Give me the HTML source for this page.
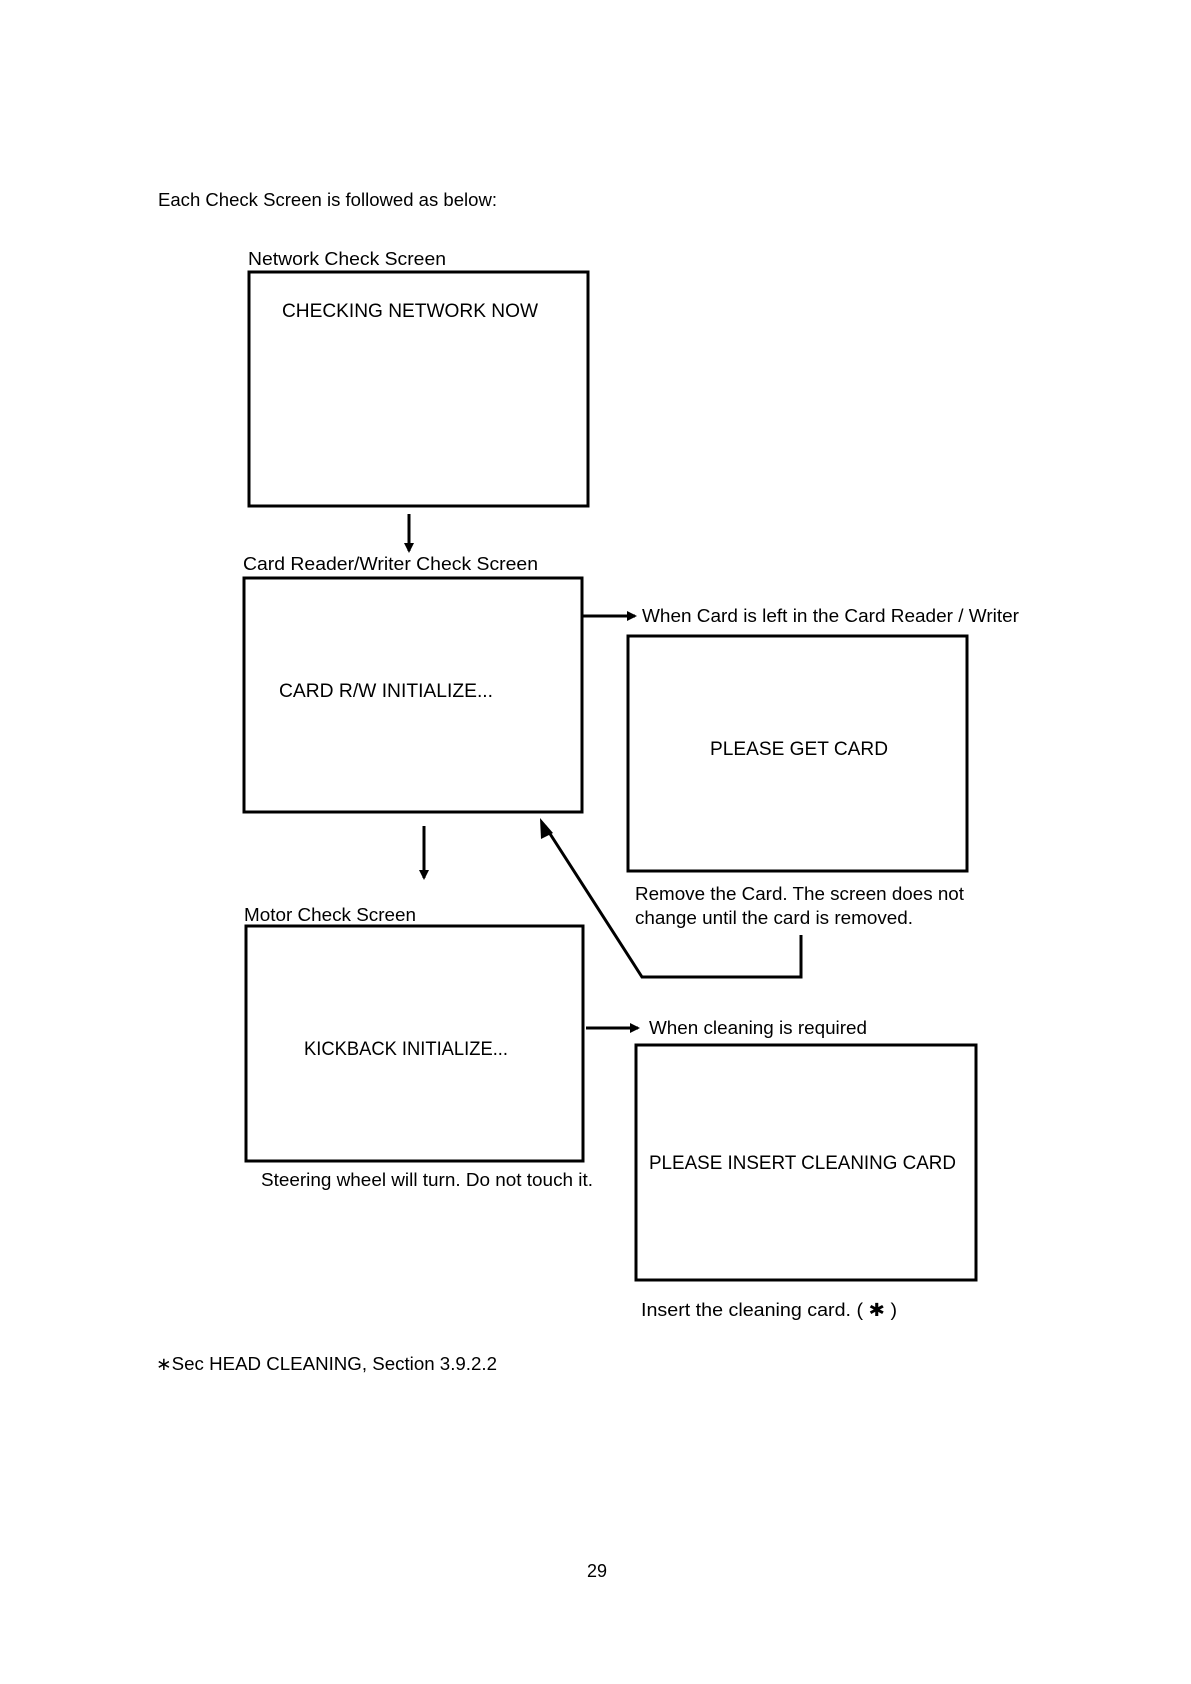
<!DOCTYPE html>
<html><head><meta charset="utf-8"><style>
html,body{margin:0;padding:0;background:#fff;}
svg{display:block;}
text{font-family:"Liberation Sans",sans-serif;fill:#000;}
</style></head><body>
<svg width="1191" height="1684" viewBox="0 0 1191 1684" xmlns="http://www.w3.org/2000/svg">
<defs>
<marker id="ah" markerWidth="10" markerHeight="10" refX="8" refY="5" orient="auto" markerUnits="userSpaceOnUse">
<path d="M0,0 L10,5 L0,10 z" fill="#000"/></marker>
</defs>
<g font-size="18">
<text x="158" y="206" textLength="339" lengthAdjust="spacingAndGlyphs">Each Check Screen is followed as below:</text>
<text x="248" y="265" textLength="198" lengthAdjust="spacingAndGlyphs">Network Check Screen</text>
<text x="243" y="570" textLength="295" lengthAdjust="spacingAndGlyphs">Card Reader/Writer Check Screen</text>
<text x="642" y="622" textLength="377" lengthAdjust="spacingAndGlyphs">When Card is left in the Card Reader / Writer</text>
<text x="635" y="900" textLength="329" lengthAdjust="spacingAndGlyphs">Remove the Card. The screen does not</text>
<text x="635" y="924" textLength="278" lengthAdjust="spacingAndGlyphs">change until the card is removed.</text>
<text x="244" y="921" textLength="172" lengthAdjust="spacingAndGlyphs">Motor Check Screen</text>
<text x="261" y="1186" textLength="332" lengthAdjust="spacingAndGlyphs">Steering wheel will turn. Do not touch it.</text>
<text x="649" y="1034" textLength="218" lengthAdjust="spacingAndGlyphs">When cleaning is required</text>
<text x="641" y="1316" textLength="256" lengthAdjust="spacingAndGlyphs">Insert the cleaning card.  ( ✱ )</text>
<text x="156" y="1370" textLength="341" lengthAdjust="spacingAndGlyphs">∗Sec HEAD CLEANING, Section  3.9.2.2</text>
<text x="587" y="1577" textLength="20" lengthAdjust="spacingAndGlyphs">29</text>
</g>
<g fill="none" stroke="#000" stroke-width="3">
<rect x="249" y="272" width="339" height="234"/>
<rect x="244" y="578" width="338" height="234"/>
<rect x="628" y="636" width="339" height="235"/>
<rect x="246" y="926" width="337" height="235"/>
<rect x="636" y="1045" width="340" height="235"/>
</g>
<g font-size="19">
<text x="282" y="317" textLength="256" lengthAdjust="spacingAndGlyphs">CHECKING NETWORK NOW</text>
<text x="279" y="697" textLength="214" lengthAdjust="spacingAndGlyphs">CARD R/W INITIALIZE...</text>
<text x="710" y="755" textLength="178" lengthAdjust="spacingAndGlyphs">PLEASE GET CARD</text>
<text x="304" y="1055" textLength="204" lengthAdjust="spacingAndGlyphs">KICKBACK INITIALIZE...</text>
<text x="649" y="1169" textLength="307" lengthAdjust="spacingAndGlyphs">PLEASE INSERT CLEANING CARD</text>
</g>
<g stroke="#000" stroke-width="3" fill="none">
<line x1="409" y1="514" x2="409" y2="551" marker-end="url(#ah)"/>
<line x1="424" y1="826" x2="424" y2="878" marker-end="url(#ah)"/>
<line x1="582" y1="616" x2="635" y2="616" marker-end="url(#ah)"/>
<line x1="586" y1="1028" x2="638" y2="1028" marker-end="url(#ah)"/>
<polyline points="801,935 801,977 642,977 545,826"/>
</g>
<path d="M540,818 L553,833 L541,839 z" fill="#000"/>
</svg>
</body></html>
